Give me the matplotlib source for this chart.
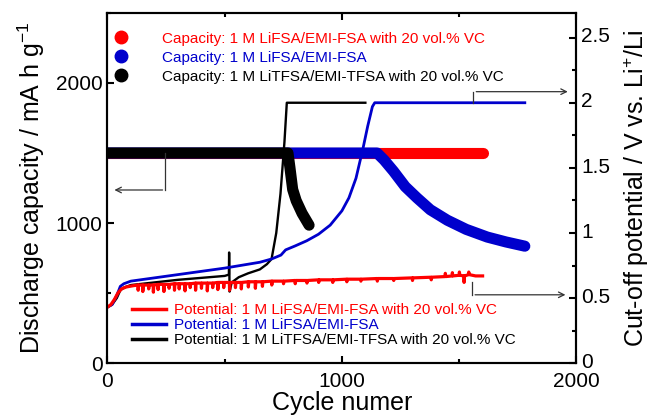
import numpy as np
import matplotlib
matplotlib.use("Agg")
import matplotlib.pyplot as plt
import matplotlib.transforms as mtransforms
from matplotlib.lines import Line2D
from matplotlib.ticker import MultipleLocator, FuncFormatter

plt.rcParams['font.family'] = ['Liberation Sans', 'DejaVu Sans']
plt.rcParams['mathtext.fontset'] = 'custom'
plt.rcParams['mathtext.rm'] = 'Liberation Sans'

# discharge capacity (left axis), mA h g-1
cap_red_cyc = [1, 1600]
cap_red = [1500, 1500]
cap_blue_cyc = [1, 1150, 1180, 1220, 1270, 1320, 1377, 1450, 1530, 1620, 1700, 1780]
cap_blue = [1500, 1500, 1450, 1370, 1260, 1180, 1095, 1020, 955, 900, 865, 835]
cap_black_cyc = [1, 770, 778, 790, 805, 830, 860]
cap_black = [1500, 1500, 1400, 1240, 1160, 1070, 985]

# cut-off potential (right axis), V vs. Li+/Li  -- (cycle, V)
pot_red_pts = [
    (0, .43), (15, .45), (30, .49), (45, .54), (60, .57), (80, .585), (110, .595),
    (130, .60), (131, .56), (133, .60), (150, .60), (151, .55), (153, .60),
    (175, .60), (176, .57), (178, .60), (195, .60), (196, .545), (198, .60),
    (215, .605), (216, .565), (218, .605), (240, .605), (241, .55), (243, .605),
    (262, .605), (263, .575), (265, .605), (285, .61), (286, .56), (288, .61),
    (305, .61), (306, .57), (308, .61), (330, .61), (331, .555), (333, .61),
    (352, .61), (353, .58), (355, .61), (375, .615), (376, .56), (378, .615),
    (400, .615), (401, .575), (403, .615), (425, .615), (426, .555), (428, .615),
    (448, .615), (449, .58), (451, .615), (470, .62), (471, .565), (473, .62),
    (495, .62), (496, .58), (498, .62), (520, .62), (521, .56), (523, .62),
    (545, .62), (546, .58), (548, .62), (570, .62), (571, .57), (573, .62),
    (600, .625), (601, .585), (603, .625), (630, .625), (631, .575), (633, .625),
    (660, .625), (661, .59), (663, .625), (700, .63), (701, .60), (703, .63),
    (750, .63), (751, .61), (753, .63), (800, .635), (801, .61), (803, .635),
    (850, .635), (851, .615), (853, .635), (900, .64), (901, .62), (903, .64),
    (960, .64), (961, .62), (963, .64), (1020, .645), (1021, .625), (1023, .645),
    (1080, .645), (1081, .63), (1083, .645), (1150, .65), (1151, .63), (1153, .65),
    (1220, .65), (1221, .635), (1223, .65), (1300, .655), (1301, .635), (1303, .655),
    (1380, .66), (1381, .64), (1383, .66), (1440, .665), (1441, .69), (1443, .665),
    (1470, .67), (1471, .695), (1473, .67), (1500, .675), (1501, .70), (1503, .675),
    (1520, .67), (1521, .62), (1523, .67), (1540, .68), (1541, .70), (1543, .68),
    (1570, .67), (1600, .67),
]
pot_blue_cyc = [0, 20, 40, 55, 70, 100, 200, 300, 400, 500, 600, 650, 700, 740, 760, 800,
                850, 900, 950, 1000, 1030, 1060, 1090, 1110, 1130, 1140, 1780]
pot_blue = [0.43, 0.45, 0.52, 0.59, 0.61, 0.63, 0.655, 0.68, 0.705, 0.73, 0.76, 0.775,
            0.80, 0.83, 0.87, 0.90, 0.94, 0.99, 1.06, 1.17, 1.27, 1.42, 1.65, 1.82, 1.97,
            2.0, 2.0]
pot_black_cyc = [0, 20, 40, 55, 70, 100, 200, 300, 400, 500, 518, 519, 521, 530, 560, 600,
                 650, 680, 700, 720, 738, 755, 765, 1100]
pot_black = [0.43, 0.45, 0.50, 0.56, 0.58, 0.60, 0.62, 0.64, 0.655, 0.67, 0.68, 0.85, 0.55,
             0.62, 0.66, 0.69, 0.72, 0.76, 0.80, 1.0, 1.3, 1.7, 2.0, 2.0]

cap_labels = ["Capacity: 1 M LiFSA/EMI-FSA with 20 vol.% VC",
              "Capacity: 1 M LiFSA/EMI-FSA",
              "Capacity: 1 M LiTFSA/EMI-TFSA with 20 vol.% VC"]
pot_labels = ["Potential: 1 M LiFSA/EMI-FSA with 20 vol.% VC",
              "Potential: 1 M LiFSA/EMI-FSA",
              "Potential: 1 M LiTFSA/EMI-TFSA with 20 vol.% VC"]
colors = ['#ff0000', '#0000cc', '#000000']

fig = plt.figure(figsize=(6.55, 4.16), dpi=100)
ax1 = fig.add_axes([0.164, 0.127, 0.716, 0.842])
ax2 = ax1.twinx()

# capacity bands (dense circle markers -> thick round-capped line)
cap_data = [(cap_red_cyc, cap_red), (cap_blue_cyc, cap_blue), (cap_black_cyc, cap_black)]
for (cx, cy), c in zip(cap_data, colors):
    ax1.plot(cx, cy, color=c, lw=8, solid_capstyle='round', solid_joinstyle='round')

# potentials
red_cyc, red_v = zip(*pot_red_pts)
ax2.plot(pot_black_cyc, pot_black, color=colors[2], lw=1.7)
ax2.plot(pot_blue_cyc, pot_blue, color=colors[1], lw=2.0)
ax2.plot(red_cyc, red_v, color=colors[0], lw=2.3)

# arrows pointing to the axes
ac = '#333333'
ax1.plot([247, 247], [1500, 1236], color=ac, lw=0.9)
ax1.annotate('', xy=(18, 1236), xytext=(247, 1236),
             arrowprops=dict(arrowstyle='->', color=ac, lw=0.9))
ax2.plot([1561, 1561], [2.0, 2.085], color=ac, lw=0.9)
ax2.annotate('', xy=(1975, 2.085), xytext=(1561, 2.085),
             arrowprops=dict(arrowstyle='->', color=ac, lw=0.9))
ax2.plot([1556, 1556], [0.62, 0.525], color=ac, lw=0.9)
ax2.annotate('', xy=(1965, 0.525), xytext=(1556, 0.525),
             arrowprops=dict(arrowstyle='->', color=ac, lw=0.9))

ax1.set_xlim(0, 2000)
ax1.set_ylim(0, 2500)
ax2.set_ylim(0, 2.69)

ax1.xaxis.set_major_locator(MultipleLocator(1000))
ax1.xaxis.set_minor_locator(MultipleLocator(500))
ax1.yaxis.set_major_locator(MultipleLocator(1000))
ax1.yaxis.set_minor_locator(MultipleLocator(500))
ax2.yaxis.set_major_locator(MultipleLocator(0.5))
ax2.yaxis.set_minor_locator(MultipleLocator(0.25))
ax2.yaxis.set_major_formatter(FuncFormatter(lambda v, p: '%g' % v))

ax1.tick_params(which='both', direction='in', top=True, width=1.5, labelsize=15)
ax1.tick_params(which='major', length=5)
ax1.tick_params(which='minor', length=3)
ax1.tick_params(axis='x', pad=6)
ax2.tick_params(which='both', direction='in', width=1.5, labelsize=15)
ax2.tick_params(which='major', length=5)
ax2.tick_params(which='minor', length=3)
for ax in (ax1, ax2):
    for s in ax.spines.values():
        s.set_linewidth(1.5)

# nudge right-hand tick labels up a little
lift = mtransforms.ScaledTranslation(0, 2 / 72, fig.dpi_scale_trans)
for lbl in ax2.get_yticklabels():
    lbl.set_transform(lbl.get_transform() + lift)

ax1.set_xlabel('Cycle numer', fontsize=18, labelpad=0)
ax1.set_ylabel('Discharge capacity / mA h g$^{-1}$', fontsize=18, labelpad=6)
ax2.set_ylabel('Cut-off potential / V vs. Li$^{+}$/Li', fontsize=18, labelpad=8)

# legends
cap_handles = [Line2D([], [], ls='none', marker='o', ms=9, color=c) for c in colors]
leg1 = ax2.legend(cap_handles, cap_labels, loc='upper left', bbox_to_anchor=(0.013, 0.946),
                  frameon=False, fontsize=11, handlelength=1.0, handletextpad=2.2,
                  labelspacing=0.32, borderpad=0, borderaxespad=0)
for t, c in zip(leg1.get_texts(), colors):
    t.set_color(c)
ax2.add_artist(leg1)

pot_handles = [Line2D([], [], color=c, lw=2.5) for c in colors]
leg2 = ax2.legend(pot_handles, pot_labels, loc='upper left', bbox_to_anchor=(0.053, 0.171),
                  frameon=False, fontsize=11, handlelength=2.2, handletextpad=0.5,
                  labelspacing=0.06, borderpad=0, borderaxespad=0)
for t, c in zip(leg2.get_texts(), colors):
    t.set_color(c)

fig.savefig('out.png', dpi=100)
